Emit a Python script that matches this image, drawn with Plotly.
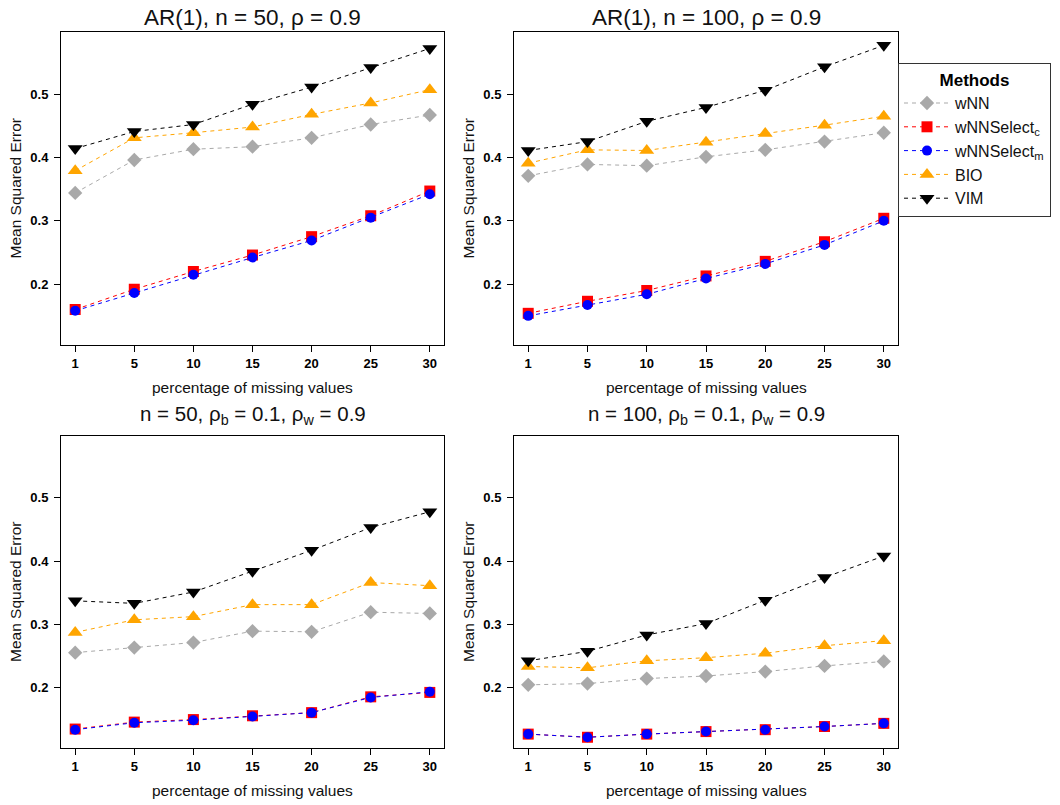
import plotly.graph_objects as go

# ---------------- data ----------------
pct_labels = ["1", "5", "10", "15", "20", "25", "30"]
methods = ["wNN", "wNNSelect<sub>c</sub>", "wNNSelect<sub>m</sub>", "BIO", "VIM"]

# Panel 1: AR(1), n = 50
p1_wnn = [0.344, 0.396, 0.413, 0.417, 0.431, 0.452, 0.467]
p1_sel_c = [0.160, 0.192, 0.220, 0.246, 0.275, 0.308, 0.347]
p1_sel_m = [0.158, 0.186, 0.215, 0.242, 0.269, 0.305, 0.342]
p1_bio = [0.379, 0.431, 0.439, 0.448, 0.468, 0.486, 0.507]
p1_vim = [0.414, 0.441, 0.452, 0.484, 0.511, 0.542, 0.572]

# Panel 2: AR(1), n = 100
p2_wnn = [0.371, 0.389, 0.387, 0.401, 0.412, 0.425, 0.439]
p2_sel_c = [0.154, 0.173, 0.190, 0.213, 0.236, 0.267, 0.304]
p2_sel_m = [0.150, 0.167, 0.184, 0.209, 0.232, 0.262, 0.300]
p2_bio = [0.391, 0.412, 0.411, 0.424, 0.438, 0.451, 0.465]
p2_vim = [0.411, 0.425, 0.457, 0.479, 0.506, 0.543, 0.577]

# Panel 3: n = 50, rho_b = 0.1, rho_w = 0.9
p3_wnn = [0.255, 0.263, 0.271, 0.289, 0.288, 0.319, 0.317]
p3_sel_c = [0.134, 0.145, 0.149, 0.155, 0.160, 0.185, 0.192]
p3_sel_m = [0.133, 0.144, 0.148, 0.154, 0.160, 0.184, 0.193]
p3_bio = [0.287, 0.307, 0.312, 0.331, 0.331, 0.366, 0.361]
p3_vim = [0.337, 0.333, 0.351, 0.384, 0.417, 0.453, 0.478]

# Panel 4: n = 100, rho_b = 0.1, rho_w = 0.9
p4_wnn = [0.204, 0.206, 0.214, 0.218, 0.225, 0.234, 0.241]
p4_sel_c = [0.126, 0.121, 0.126, 0.130, 0.133, 0.138, 0.143]
p4_sel_m = [0.126, 0.121, 0.126, 0.130, 0.133, 0.138, 0.143]
p4_bio = [0.233, 0.231, 0.242, 0.247, 0.254, 0.266, 0.274]
p4_vim = [0.242, 0.257, 0.283, 0.301, 0.338, 0.374, 0.408]

titles = [
    "AR(1), n = 50, ρ = 0.9",
    "AR(1), n = 100, ρ = 0.9",
    "n = 50, ρ<sub>b</sub> = 0.1, ρ<sub>w</sub> = 0.9",
    "n = 100, ρ<sub>b</sub> = 0.1, ρ<sub>w</sub> = 0.9",
]
x_title = "percentage of missing values"
y_title = "Mean Squared Error"
y_ticks = [0.2, 0.3, 0.4, 0.5]
y_ticktext = ["0.2", "0.3", "0.4", "0.5"]

panels = [
    [p1_wnn, p1_sel_c, p1_sel_m, p1_bio, p1_vim],
    [p2_wnn, p2_sel_c, p2_sel_m, p2_bio, p2_vim],
    [p3_wnn, p3_sel_c, p3_sel_m, p3_bio, p3_vim],
    [p4_wnn, p4_sel_c, p4_sel_m, p4_bio, p4_vim],
]

# ---------------- styles ----------------
colors = ["#A9A9A9", "#FF0000", "#0000FF", "#FFA500", "#000000"]
symbols = ["diamond", "square", "circle", "triangle-up", "triangle-down"]
msizes = [11, 11, 10, 13, 13]

W, H = 1060, 805
OFF = 8  # page body margin of the html page
# pixel boxes in the window (left, right, top, bottom)
boxes = [
    (61, 444, 32, 345),
    (514, 898, 32, 345),
    (61, 444, 436, 748),
    (514, 898, 436, 748),
]
title_gap = [15, 15, 21, 21]
title_size = [22.5, 22.5, 20.5, 20.5]


def px(x):
    return (x - OFF) / W


def py(y):
    return 1 - (y - OFF) / H


fig = go.Figure()
font_fam = "Liberation Sans, Arial, sans-serif"
txt_col = "#111111"

for i, (box, data) in enumerate(zip(boxes, panels)):
    l, r, t, b = box
    xa = "xaxis" if i == 0 else f"xaxis{i+1}"
    ya = "yaxis" if i == 0 else f"yaxis{i+1}"
    xref = "x" if i == 0 else f"x{i+1}"
    yref = "y" if i == 0 else f"y{i+1}"
    for k, vals in enumerate(data):
        fig.add_trace(go.Scatter(
            x=pct_labels, y=vals, xaxis=xref, yaxis=yref,
            mode="lines+markers", name=methods[k],
            line=dict(color=colors[k], width=1, dash="4px,4px"),
            marker=dict(symbol=symbols[k], size=msizes[k], color=colors[k]),
            showlegend=(i == 0), legendgroup=methods[k],
        ))
    fig.update_layout({
        xa: dict(domain=[px(l), px(r)], anchor=yref, type="category",
                 range=[-0.24, 6.24], showline=True, mirror=True,
                 linecolor="black", linewidth=1, ticks="outside", ticklen=6,
                 tickcolor="black", showgrid=False, zeroline=False,
                 automargin=False,
                 tickfont=dict(family=font_fam, size=13, color="black", weight="bold")),
        ya: dict(domain=[py(b), py(t)], anchor=xref,
                 range=[0.104, 0.598], showline=True, mirror=True,
                 linecolor="black", linewidth=1, ticks="outside", ticklen=6,
                 tickcolor="black", showgrid=False, zeroline=False,
                 automargin=False, ticklabelstandoff=3,
                 tickvals=y_ticks, ticktext=y_ticktext,
                 tickfont=dict(family=font_fam, size=13, color="black", weight="bold")),
    })
    # panel title
    fig.add_annotation(
        text=titles[i], xref="paper", yref="paper",
        x=px((l + r) / 2), y=py(t - title_gap[i]),
        xanchor="center", yanchor="middle",
        showarrow=False, font=dict(family=font_fam, size=title_size[i], color=txt_col),
    )
    # x axis title
    fig.add_annotation(
        text=x_title, xref="paper", yref="paper",
        x=px((l + r) / 2), y=py(b + 42),
        xanchor="center", yanchor="middle",
        showarrow=False, font=dict(family=font_fam, size=15.5, color=txt_col),
    )
    # y axis title
    fig.add_annotation(
        text=y_title, xref="paper", yref="paper",
        x=px(l - 46), y=py((t + b) / 2),
        xanchor="center", yanchor="middle", textangle=-90,
        showarrow=False, font=dict(family=font_fam, size=15.5, color=txt_col),
    )

fig.update_layout(
    width=W, height=H,
    margin=dict(l=0, r=0, t=0, b=0),
    paper_bgcolor="white", plot_bgcolor="white",
    legend=dict(
        x=px(898), y=py(63), xanchor="left", yanchor="top",
        bordercolor="#333", borderwidth=1, bgcolor="white",
        title=dict(text="<b>Methods</b>", side="top center",
                   font=dict(family=font_fam, size=17, color="black")),
        font=dict(family=font_fam, size=16, color=txt_col),
        itemwidth=46, tracegroupgap=0,
    ),
)

fig.write_html("out.html")
